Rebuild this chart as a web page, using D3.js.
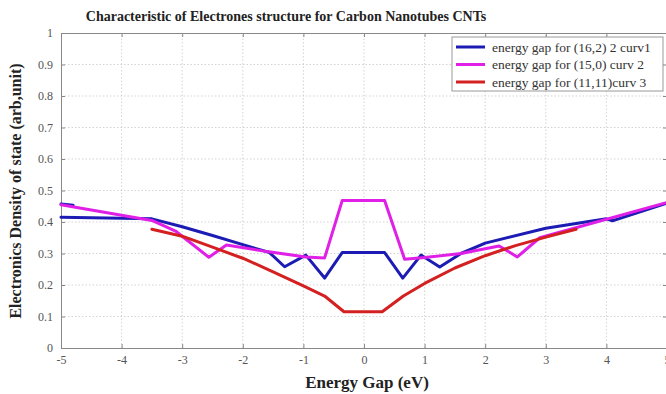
<!DOCTYPE html>
<html><head><meta charset="utf-8">
<script src="https://cdn.jsdelivr.net/npm/d3@7"></script>
<style>body{margin:0;background:#fff;overflow:hidden}svg{display:block}text{font-family:"Liberation Serif","Times New Roman",serif}</style>
</head><body><svg id="c" width="666" height="394"></svg>
<script>
const title = "Characteristic of Electrones structure for Carbon Nanotubes CNTs";
const xLabel = "Energy Gap (eV)";
const yLabel = "Electronics Density of state (arb,unit)";
const xTicks = [-5,-4,-3,-2,-1,0,1,2,3,4,5];
const yTicks = [0,0.1,0.2,0.3,0.4,0.5,0.6,0.7,0.8,0.9,1];
const seriesNames = ["energy gap for (16,2) 2 curv1","energy gap for (15,0) curv 2","energy gap for (11,11)curv  3"];
const seriesColors = ["#1c1cb4","#e020e6","#d42020"];

const blueX = [-5,-3.5,-3,-2.5,-2,-1.56,-1.31,-0.96,-0.65,-0.36,0.34,0.64,0.94,1.25,1.6,2.0,3.0,3.5,4.0,4.1,4.2,5];
const blueY = [0.415,0.41,0.385,0.357,0.328,0.303,0.258,0.295,0.222,0.303,0.303,0.222,0.295,0.257,0.3,0.333,0.38,0.395,0.41,0.404,0.41,0.46];
const blueStubX = [-5,-4.8];
const blueStubY = [0.457,0.453];
const magX = [-5,-3.5,-3.1,-2.56,-2.27,-1.6,-0.96,-0.65,-0.36,0.34,0.67,1.0,1.6,2.23,2.53,2.9,5];
const magY = [0.455,0.405,0.37,0.288,0.327,0.306,0.289,0.286,0.468,0.468,0.282,0.287,0.3,0.324,0.289,0.35,0.462];
const redX = [-3.5,-3,-2.5,-2,-1.5,-1,-0.65,-0.33,0.3,0.65,1,1.5,2,2.5,3,3.5];
const redY = [0.377,0.355,0.32,0.285,0.242,0.197,0.165,0.115,0.115,0.165,0.205,0.254,0.293,0.325,0.352,0.377];

const svg = d3.select("#c");
const x = d3.scaleLinear().domain([-5,5]).range([61,667]);
const y = d3.scaleLinear().domain([0,1]).range([348,33]);

svg.append("rect").attr("x",61).attr("y",33).attr("width",606).attr("height",315).attr("fill","#fff");

// grid
const grid = svg.append("g").attr("stroke","#c8c8c8").attr("stroke-width",0.8).attr("stroke-dasharray","1.5,2");
xTicks.slice(1,-1).forEach(t=>grid.append("line").attr("x1",x(t)).attr("x2",x(t)).attr("y1",y(0)).attr("y2",y(1)));
yTicks.slice(1,-1).forEach(t=>grid.append("line").attr("x1",x(-5)).attr("x2",x(5)).attr("y1",y(t)).attr("y2",y(t)));

// axes
const fmtX = d=>String(d);
const fmtY = d=>(d===0||d===1)?String(d):d.toFixed(1);
const axB = d3.axisBottom(x).tickValues(xTicks).tickSize(-4).tickPadding(7).tickFormat(fmtX);
const axT = d3.axisTop(x).tickValues(xTicks).tickSize(-4).tickFormat("");
const axL = d3.axisLeft(y).tickValues(yTicks).tickSize(-4).tickPadding(8).tickFormat(fmtY);
const axR = d3.axisRight(y).tickValues(yTicks).tickSize(-4).tickFormat("");
function style(g){
  g.attr("font-family","'Liberation Serif','Times New Roman',serif").attr("font-size",12);
  g.selectAll("path").attr("stroke","#888");
  g.selectAll("line").attr("stroke","#888");
  g.selectAll("text").attr("fill","#555");
}
svg.append("g").attr("transform","translate(0,348)").call(axB).call(style);
svg.append("g").attr("transform","translate(0,33)").call(axT).call(style);
svg.append("g").attr("transform","translate(61,0)").call(axL).call(style);
svg.append("g").attr("transform","translate(667,0)").call(axR).call(style);

// lines
const line = d3.line().x(d=>x(d[0])).y(d=>y(d[1]));
const data = [
  {xs:blueX, ys:blueY, c:seriesColors[0]},
  {xs:blueStubX, ys:blueStubY, c:seriesColors[0]},
  {xs:magX, ys:magY, c:seriesColors[1]},
  {xs:redX, ys:redY, c:seriesColors[2]}
];
data.forEach(s=>{
  svg.append("path").datum(s.xs.map((v,i)=>[v,s.ys[i]])).attr("d",line)
    .attr("fill","none").attr("stroke",s.c).attr("stroke-width",3).attr("stroke-linejoin","round").attr("stroke-linecap","round");
});

// title & labels
svg.append("text").attr("x",286).attr("y",21).attr("text-anchor","middle").attr("font-weight","bold").style("font-size","14px").attr("fill","#222").text(title);
svg.append("text").attr("x",367).attr("y",388).attr("text-anchor","middle").attr("font-weight","bold").style("font-size","17px").attr("fill","#222").text(xLabel);
svg.append("text").attr("transform","translate(21,191) rotate(-90)").attr("text-anchor","middle").attr("font-weight","bold").style("font-size","16px").attr("fill","#222").text(yLabel);

// legend
const lg = svg.append("g");
lg.append("rect").attr("x",452).attr("y",37).attr("width",211).attr("height",54).attr("fill","#fff").attr("stroke","#999").attr("stroke-width",1);
seriesNames.forEach((n,i)=>{
  const yy = 47 + i*17.5;
  lg.append("line").attr("x1",456).attr("x2",485).attr("y1",yy).attr("y2",yy).attr("stroke",seriesColors[i]).attr("stroke-width",3);
  lg.append("text").attr("x",492).attr("y",yy+4.5).style("font-size","13.5px").attr("fill","#333").text(n);
});
</script></body></html>
